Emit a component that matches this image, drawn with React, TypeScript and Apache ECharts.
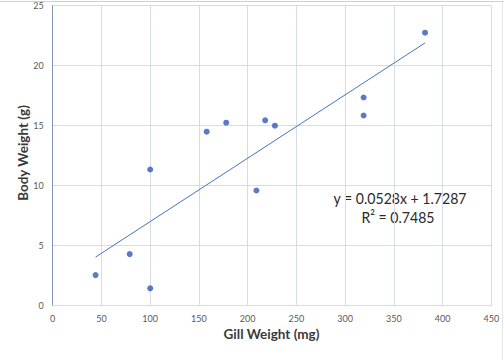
import React, { useEffect, useRef } from "react";
import * as echarts from "echarts";

const gillWeight = [44, 79, 100, 100, 158, 178, 209, 218, 228, 319, 319, 382];
const bodyWeight = [2.55, 4.3, 1.45, 11.35, 14.5, 15.25, 9.6, 15.45, 15.0, 17.35, 15.85, 22.75];
const slope = 0.0528;
const intercept = 1.7287;
const equationText = "y = 0.0528x + 1.7287";
const r2Text = "R² = 0.7485";
const xTitle = "Gill Weight (mg)";
const yTitle = "Body Weight (g)";

const FONT = "Lato";

export default function App() {
  const ref = useRef<HTMLDivElement>(null);
  useEffect(() => {
    if (!ref.current) return;
    const chart = echarts.init(ref.current, undefined, { renderer: "svg" });
    const points = gillWeight.map((x, i) => [x, bodyWeight[i]]);
    const xMin = Math.min(...gillWeight);
    const xMax = Math.max(...gillWeight);
    const trend = [
      [xMin, slope * xMin + intercept],
      [xMax, slope * xMax + intercept],
    ];
    const titleStyle = { fontFamily: FONT, fontSize: 13.5, fontWeight: "bold", fill: "#3a3a3a" };
    const eqStyle = {
      fontFamily: FONT,
      fontSize: 16,
      lineHeight: 17,
      fill: "#2a2a2a",
      align: "center",
      verticalAlign: "middle",
    };
    chart.setOption({
      animation: false,
      backgroundColor: "#ffffff",
      grid: { left: 52.7, right: 12.7, top: 5.7, bottom: 54.3 },
      xAxis: {
        type: "value",
        min: 0,
        max: 450,
        interval: 50,
        axisLine: { show: true, lineStyle: { color: "#d6dbe4", width: 1 } },
        axisTick: { show: false },
        axisLabel: { fontFamily: FONT, fontSize: 9, color: "#595959", margin: 8 },
        splitLine: { show: true, lineStyle: { color: "#d6dbe4", width: 1 } },
      },
      yAxis: {
        type: "value",
        min: 0,
        max: 25,
        interval: 5,
        axisLine: { show: true, lineStyle: { color: "#8497b0", width: 1 } },
        axisTick: { show: false },
        axisLabel: { fontFamily: FONT, fontSize: 9, color: "#595959", margin: 9 },
        splitLine: { show: true, lineStyle: { color: "#d6dbe4", width: 1 } },
      },
      series: [
        {
          type: "line",
          data: trend,
          showSymbol: false,
          symbol: "none",
          lineStyle: { color: "#4472c4", width: 1 },
          silent: true,
          z: 2,
        },
        {
          type: "scatter",
          data: points,
          symbol: "circle",
          symbolSize: 6,
          itemStyle: { color: "#3358b8" },
          z: 3,
        },
      ],
      graphic: [
        {
          type: "line",
          shape: { x1: 0, y1: 1.5, x2: 504, y2: 1.5 },
          style: { stroke: "#d0d0d0", lineWidth: 1 },
        },
        {
          type: "line",
          shape: { x1: 502.5, y1: 1.5, x2: 502.5, y2: 360 },
          style: { stroke: "#e6e6e6", lineWidth: 1 },
        },
        {
          type: "text",
          x: 271.5,
          y: 334,
          style: { text: xTitle, ...titleStyle, align: "center", verticalAlign: "middle" },
        },
        {
          type: "text",
          x: 22.5,
          y: 153,
          rotation: Math.PI / 2,
          style: { text: yTitle, ...titleStyle, align: "center", verticalAlign: "middle" },
        },
        {
          type: "text",
          x: 400,
          y: 198,
          scaleX: 0.88,
          style: { text: equationText, ...eqStyle },
        },
        {
          type: "text",
          x: 398,
          y: 216.5,
          scaleX: 0.88,
          style: { text: r2Text, ...eqStyle },
        },
      ],
    });
    return () => chart.dispose();
  }, []);
  return (
    <div
      ref={ref}
      style={{ position: "fixed", left: 0, top: 0, width: 504, height: 360 }}
    />
  );
}
